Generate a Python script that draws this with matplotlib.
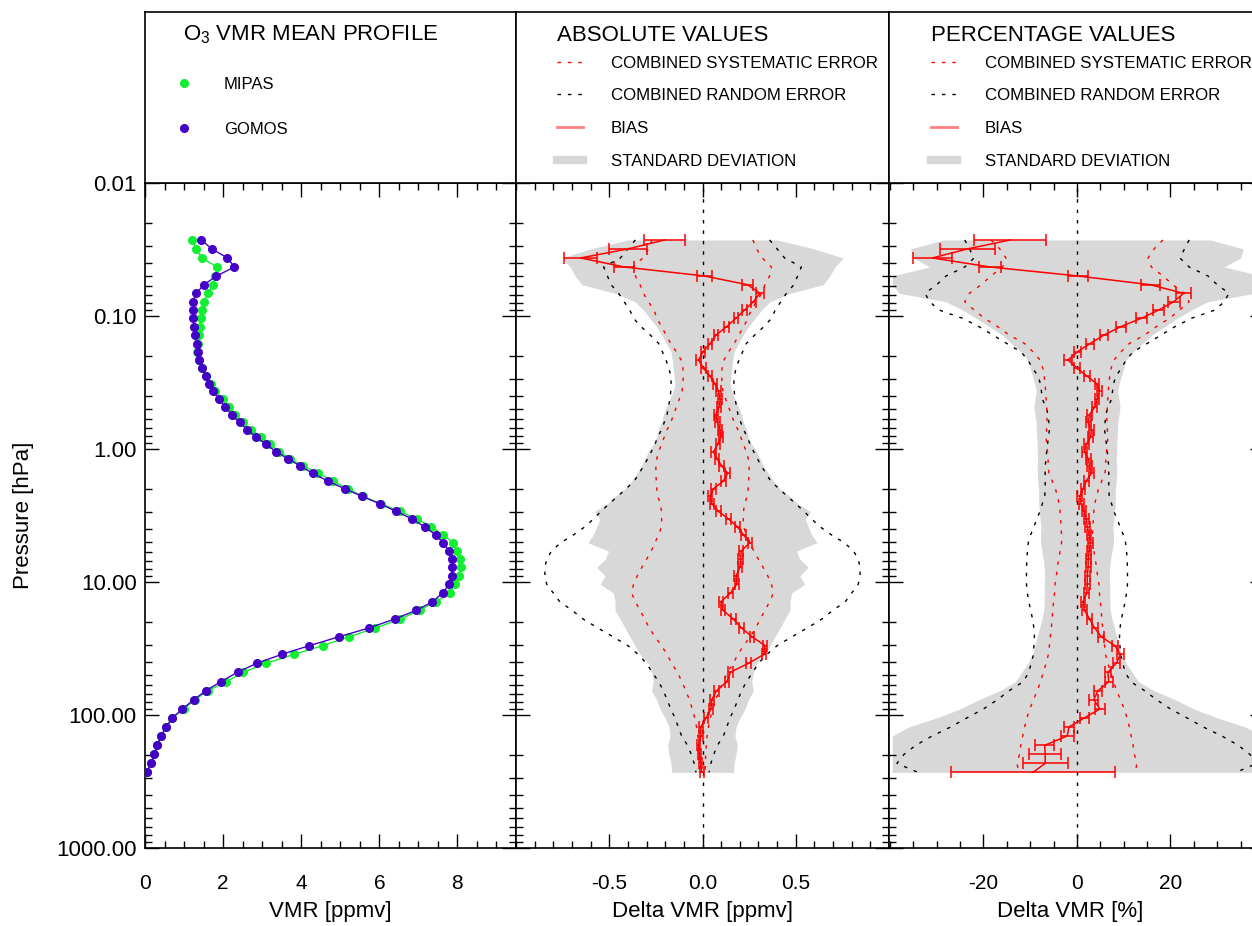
"""O3 VMR mean profiles MIPAS vs GOMOS and their differences (absolute / percentage)."""

import matplotlib

matplotlib.use("Agg")
import matplotlib.pyplot as plt
import numpy as np
from matplotlib.lines import Line2D
from matplotlib.ticker import (FixedLocator, FuncFormatter, LogLocator,
                               MultipleLocator, NullFormatter)

plt.rcParams["font.family"] = ["Liberation Sans", "DejaVu Sans"]
plt.rcParams["mathtext.fontset"] = "custom"
plt.rcParams["mathtext.rm"] = "Liberation Sans"
plt.rcParams["axes.unicode_minus"] = False

# --- data ------------------------------------------------------------------
pressure = [0.0268, 0.0313, 0.0366, 0.0428, 0.0500, 0.0582, 0.0675, 0.0781, 0.0901, 0.104,
            0.120, 0.139, 0.161, 0.186, 0.214, 0.247, 0.284, 0.325, 0.368, 0.423,
            0.483, 0.552, 0.630, 0.716, 0.813, 0.922, 1.05, 1.18, 1.34, 1.52,
            1.74, 1.99, 2.27, 2.58, 2.95, 3.36, 3.84, 4.41, 5.06, 5.85,
            6.75, 7.75, 9.01, 10.4, 12.1, 14.1, 16.3, 19.0, 22.2, 25.8,
            30.1, 35.0, 40.9, 47.7, 56.2, 65.7, 76.7, 90.1, 105, 123,
            144, 169, 198, 231, 270]

mipas = [1.21, 1.31, 1.45, 1.85, 1.80, 1.75, 1.62, 1.50, 1.46, 1.43,
         1.41, 1.38, 1.35, 1.34, 1.38, 1.46, 1.57, 1.68, 1.80, 1.99,
         2.14, 2.31, 2.50, 2.72, 2.97, 3.21, 3.44, 3.72, 4.04, 4.44,
         4.81, 5.19, 5.58, 6.05, 6.52, 6.97, 7.33, 7.63, 7.89, 7.99,
         8.06, 8.09, 8.04, 7.95, 7.80, 7.44, 7.03, 6.54, 5.90, 5.23,
         4.55, 3.82, 3.10, 2.52, 2.08, 1.61, 1.28, 0.99, 0.70, 0.54,
         0.41, 0.30, 0.24, 0.16, 0.04]

gomos = [1.44, 1.71, 2.11, 2.29, 1.83, 1.51, 1.31, 1.22, 1.22, 1.24,
         1.26, 1.28, 1.32, 1.35, 1.39, 1.46, 1.56, 1.64, 1.75, 1.89,
         2.05, 2.22, 2.42, 2.62, 2.85, 3.10, 3.36, 3.65, 3.97, 4.29,
         4.68, 5.11, 5.56, 6.01, 6.44, 6.84, 7.16, 7.44, 7.63, 7.79,
         7.86, 7.87, 7.86, 7.79, 7.62, 7.36, 6.95, 6.39, 5.73, 4.97,
         4.21, 3.50, 2.86, 2.37, 1.94, 1.56, 1.25, 0.96, 0.70, 0.54,
         0.41, 0.32, 0.24, 0.16, 0.04]

# absolute differences [ppmv]
bias_abs = [-0.203, -0.399, -0.654, -0.42, 0.009, 0.242, 0.308, 0.273, 0.226, 0.18,
            0.130, 0.073, 0.041, 0.002, -0.021, 0.005, 0.041, 0.068, 0.086, 0.095,
            0.089, 0.071, 0.080, 0.095, 0.098, 0.082, 0.059, 0.077, 0.103, 0.135,
            0.112, 0.059, 0.041, 0.05, 0.086, 0.14, 0.187, 0.219, 0.255, 0.207,
            0.205, 0.201, 0.18, 0.184, 0.15, 0.098, 0.11, 0.165, 0.21, 0.266,
            0.335, 0.33, 0.246, 0.15, 0.13, 0.075, 0.05, 0.045, 0.02, -0.009,
            -0.009, -0.022, -0.016, -0.011, -0.004]
bias_abs_err = [0.111, 0.100, 0.089, 0.052, 0.041, 0.030, 0.020, 0.015, 0.014, 0.013,
                0.013, 0.012, 0.012, 0.012, 0.012, 0.012, 0.012, 0.012, 0.012, 0.012,
                0.012, 0.012, 0.012, 0.012, 0.012, 0.012, 0.012, 0.012, 0.012, 0.012,
                0.012, 0.012, 0.012, 0.012, 0.012, 0.012, 0.012, 0.012, 0.012, 0.012,
                0.012, 0.012, 0.012, 0.012, 0.012, 0.012, 0.012, 0.012, 0.012, 0.012,
                0.012, 0.012, 0.012, 0.012, 0.012, 0.012, 0.012, 0.012, 0.012, 0.010,
                0.010, 0.010, 0.010, 0.010, 0.010]
sys_abs = [0.27, 0.29, 0.32, 0.37, 0.36, 0.335, 0.317, 0.29, 0.26, 0.245,
           0.22, 0.195, 0.17, 0.14, 0.115, 0.105, 0.103, 0.105, 0.11, 0.125,
           0.14, 0.155, 0.17, 0.19, 0.205, 0.22, 0.235, 0.245, 0.25, 0.25,
           0.248, 0.245, 0.24, 0.225, 0.22, 0.219, 0.22, 0.235, 0.255, 0.275,
           0.30, 0.325, 0.35, 0.37, 0.38, 0.36, 0.335, 0.31, 0.285, 0.255,
           0.22, 0.19, 0.165, 0.135, 0.11, 0.09, 0.07, 0.055, 0.042, 0.032,
           0.025, 0.02, 0.017, 0.015, 0.014]
rnd_abs = [0.36, 0.40, 0.44, 0.53, 0.51, 0.49, 0.45, 0.42, 0.39, 0.37,
           0.33, 0.28, 0.235, 0.215, 0.196, 0.18, 0.17, 0.168, 0.17, 0.175,
           0.183, 0.19, 0.205, 0.22, 0.24, 0.255, 0.275, 0.294, 0.315, 0.34,
           0.365, 0.41, 0.455, 0.50, 0.545, 0.585, 0.63, 0.69, 0.76, 0.81,
           0.835, 0.845, 0.845, 0.835, 0.80, 0.765, 0.70, 0.64, 0.56, 0.48,
           0.40, 0.345, 0.30, 0.27, 0.235, 0.21, 0.19, 0.17, 0.148, 0.13,
           0.112, 0.08, 0.06, 0.045, 0.035]
std_abs = [0.40, 0.60, 0.754, 0.71, 0.683, 0.647, 0.469, 0.362, 0.317, 0.282,
           0.246, 0.219, 0.193, 0.169, 0.162, 0.157, 0.152, 0.148, 0.157, 0.175,
           0.193, 0.21, 0.219, 0.237, 0.246, 0.264, 0.29, 0.308, 0.326, 0.353,
           0.38, 0.415, 0.469, 0.51, 0.58, 0.55, 0.567, 0.585, 0.615, 0.504,
           0.522, 0.567, 0.522, 0.549, 0.478, 0.469, 0.469, 0.442, 0.415, 0.389,
           0.362, 0.335, 0.29, 0.273, 0.264, 0.273, 0.246, 0.228, 0.201, 0.18,
           0.174, 0.187, 0.18, 0.169, 0.166]

# percentage differences [%]
bias_pct = [-14.3, -23.4, -30.9, -18.6, 0.2, 15.7, 22.8, 20.7, 17.5, 13.8,
            9.4, 5.8, 2.8, 0.1, -1.9, 0.0, 2.2, 4.3, 4.8, 4.3,
            3.8, 2.7, 2.4, 3.1, 2.9, 2.0, 1.6, 2.4, 2.7, 3.1,
            2.0, 1.3, 0.6, 0.9, 1.5, 2.0, 2.2, 2.6, 2.85, 2.6,
            2.4, 2.4, 2.2, 2.2, 2.1, 1.3, 1.6, 2.7, 3.8, 5.2,
            8.1, 9.3, 8.4, 6.6, 6.8, 4.5, 3.6, 4.9, 1.6, -1.7,
            -2.1, -6.9, -6.8, -6.8, -9.4]
bias_pct_err = [7.7, 5.8, 4.2, 2.3, 2.1, 2.1, 1.6, 1.3, 1.2, 1.1,
                1.0, 0.9, 0.9, 0.8, 0.8, 0.7, 0.6, 0.5, 0.5, 0.5,
                0.5, 0.5, 0.5, 0.5, 0.5, 0.5, 0.5, 0.5, 0.5, 0.5,
                0.5, 0.5, 0.5, 0.5, 0.5, 0.5, 0.5, 0.5, 0.5, 0.5,
                0.5, 0.5, 0.5, 0.5, 0.5, 0.5, 0.6, 0.6, 0.6, 0.6,
                0.7, 0.7, 0.7, 0.7, 0.8, 0.9, 1.0, 1.0, 1.0, 1.1,
                1.4, 2.0, 3.4, 4.8, 17.5]
sys_pct = [18.4, 16.5, 15.2, 15.9, 18.4, 20.5, 23.0, 24.0, 22.0, 19.8,
           17.0, 14.5, 11.2, 9.4, 7.9, 7.3, 7.0, 6.8, 6.7, 6.6,
           6.5, 6.4, 6.4, 6.5, 6.6, 6.5, 6.3, 6.2, 6.1, 6.0,
           5.3, 4.6, 4.2, 3.8, 3.6, 3.5, 3.4, 3.3, 3.3, 3.6,
           3.9, 4.2, 4.4, 4.7, 4.8, 5.0, 5.2, 5.3, 5.5, 5.7,
           5.9, 6.1, 6.6, 7.2, 7.8, 8.5, 9.3, 10.1, 10.7, 11.2,
           11.6, 12.0, 12.3, 12.8, 12.5]
rnd_pct = [24.0, 23.0, 22.0, 24.0, 28.0, 30.0, 32.5, 31.5, 29.5, 24.5,
           21.0, 18.0, 15.0, 12.0, 10.5, 9.5, 8.3, 7.8, 7.6, 7.4,
           6.6, 6.2, 6.0, 5.9, 6.1, 6.3, 6.5, 6.6, 6.8, 6.8,
           6.8, 6.8, 6.9, 7.4, 7.9, 8.6, 9.2, 9.9, 10.4, 10.6,
           10.7, 10.8, 10.8, 10.8, 10.6, 10.3, 9.9, 9.5, 9.2, 9.1,
           9.2, 9.3, 9.8, 10.3, 11.5, 14.5, 17.0, 20.0, 23.5, 27.0,
           31.0, 34.5, 37.0, 38.5, 34.0]
std_pct = [28.5, 35.6, 35.0, 31.5, 39.5, 39.5, 38.0, 28.0, 24.5, 21.5,
           18.8, 16.0, 14.0, 12.0, 10.5, 10.0, 9.5, 9.0, 8.7, 9.0,
           9.2, 9.0, 8.7, 8.7, 8.6, 8.5, 8.5, 8.4, 8.5, 8.5,
           8.4, 8.2, 8.2, 8.2, 8.0, 7.9, 7.7, 7.8, 7.8, 7.5,
           7.2, 7.0, 6.9, 7.0, 7.0, 7.0, 7.1, 7.5, 8.0, 8.5,
           9.0, 9.5, 10.5, 11.8, 13.2, 16.5, 21.0, 25.0, 30.0, 36.0,
           39.5, 39.5, 39.5, 39.5, 39.5]

GREEN = "#12ee30"
PURPLE = "#4500c8"
RED = "#ff0000"
GREY = "#d8d8d8"
DASH = (0, (2.5, 5))

W, H = 1252, 926
fig = plt.figure(figsize=(W / 100, H / 100), dpi=100)


def rect(x0, x1, y0, y1):
    """Pixel box (from top-left) -> figure fraction rect."""
    return [x0 / W, 1 - y1 / H, (x1 - x0) / W, (y1 - y0) / H]


ax_prof = fig.add_axes(rect(145, 516, 183, 848))
ax_abs = fig.add_axes(rect(516, 889, 183, 848))
ax_pct = fig.add_axes(rect(889, 1264, 183, 848))
hd_prof = fig.add_axes(rect(145, 516, 12, 183))
hd_abs = fig.add_axes(rect(516, 889, 12, 183))
hd_pct = fig.add_axes(rect(889, 1264, 12, 183))

# mean profiles
ax_prof.plot(mipas, pressure, color=GREEN, lw=1, marker="o", ms=5.5, mec=GREEN, zorder=3)
ax_prof.plot(gomos, pressure, color=PURPLE, lw=1, marker="o", ms=5.5, mec=PURPLE, zorder=4)


def diff_panel(ax, std, sys_err, rnd_err, bias, bias_err):
    std = np.asarray(std)
    ax.fill_betweenx(pressure, -std, std, color=GREY, lw=0, zorder=1)
    for sign in (1, -1):
        ax.plot(sign * np.asarray(rnd_err), pressure, color="k", ls=DASH, lw=1, zorder=2)
        ax.plot(sign * np.asarray(sys_err), pressure, color=RED, ls=DASH, lw=1, zorder=2)
    ax.axvline(0, color="k", ls=DASH, lw=1, zorder=2)
    ax.errorbar(bias, pressure, xerr=bias_err, color=RED, lw=1.1, elinewidth=1.1,
                capsize=4, capthick=1.1, zorder=3)


diff_panel(ax_abs, std_abs, sys_abs, rnd_abs, bias_abs, bias_abs_err)
diff_panel(ax_pct, std_pct, sys_pct, rnd_pct, bias_pct, bias_pct_err)

for ax in (ax_prof, ax_abs, ax_pct):
    ax.set_yscale("log")
    ax.set_ylim(1000, 0.01)
    ax.yaxis.set_major_locator(LogLocator(base=10, numticks=12))
    ax.yaxis.set_minor_locator(LogLocator(base=10, subs=np.arange(2, 10), numticks=12))
    ax.yaxis.set_minor_formatter(NullFormatter())
    ax.yaxis.set_major_formatter(FuncFormatter(lambda v, _: f"{v:.2f}"))
    ax.tick_params(which="both", direction="in", top=True, right=True, labelsize=15)
    ax.tick_params(axis="y", labelsize=16, pad=6)
    ax.tick_params(which="major", length=10, width=1)
    ax.tick_params(which="minor", length=5, width=1)
    ax.tick_params(axis="x", pad=19)
    for sp in ax.spines.values():
        sp.set_linewidth(1.2)

ax_prof.set_xlim(0, 9.5)
ax_prof.xaxis.set_major_locator(MultipleLocator(2))
ax_prof.xaxis.set_minor_locator(MultipleLocator(0.5))
ax_prof.set_xlabel("VMR [ppmv]", fontsize=16)
ax_prof.set_ylabel("Pressure [hPa]", fontsize=16)
ax_prof.yaxis.set_label_coords(-0.299, 0.5)

ax_abs.set_xlim(-1.0, 1.0)
ax_abs.xaxis.set_major_locator(FixedLocator([-0.5, 0.0, 0.5]))
ax_abs.xaxis.set_minor_locator(MultipleLocator(0.1))
ax_abs.set_xlabel("Delta VMR [ppmv]", fontsize=16)
ax_abs.tick_params(labelleft=False)

ax_pct.set_xlim(-40.2, 40.0)
ax_pct.xaxis.set_major_locator(FixedLocator([-20, 0, 20]))
ax_pct.xaxis.set_minor_locator(MultipleLocator(5))
ax_pct.set_xlabel("Delta VMR [%]", fontsize=16)
ax_pct.tick_params(labelleft=False)

for ax in (ax_prof, ax_abs):
    ax.xaxis.set_label_coords(0.5, -0.08)
ax_pct.xaxis.set_label_coords(0.4827, -0.08)

# header boxes with legends
for hd in (hd_prof, hd_abs, hd_pct):
    hd.set_xticks([])
    hd.set_yticks([])
    for sp in hd.spines.values():
        sp.set_linewidth(1.2)

TITLE_Y = 0.865
hd_prof.text(0.1024, TITLE_Y, r"O$_{\mathregular{3}}$ VMR MEAN PROFILE", fontsize=16,
             ha="left", va="center", transform=hd_prof.transAxes)
prof_handles = [Line2D([], [], ls="none", marker="o", ms=5.5, color=GREEN),
                Line2D([], [], ls="none", marker="o", ms=5.5, color=PURPLE)]
hd_prof.legend(prof_handles, ["MIPAS", "GOMOS"], loc="upper left",
               bbox_to_anchor=(0.0916, 0.622), frameon=False, fontsize=12,
               borderpad=0, borderaxespad=0, handlelength=0.6,
               handletextpad=2.1, labelspacing=1.81)

diff_handles = [Line2D([], [], color=RED, ls=DASH, lw=1),
                Line2D([], [], color="k", ls=DASH, lw=1),
                Line2D([], [], color="#ff8080", lw=2),
                Line2D([], [], color=GREY, lw=6)]
diff_labels = ["COMBINED SYSTEMATIC ERROR", "COMBINED RANDOM ERROR", "BIAS",
               "STANDARD DEVIATION"]
for hd, title, x0 in ((hd_abs, "ABSOLUTE VALUES", 41 / 373),
                      (hd_pct, "PERCENTAGE VALUES", 42 / 375)):
    hd.text(x0, TITLE_Y, title, fontsize=16, ha="left", va="center",
            transform=hd.transAxes)
    hd.legend(diff_handles, diff_labels, loc="upper left",
              bbox_to_anchor=(x0, 0.745), frameon=False, fontsize=12.2,
              borderpad=0, borderaxespad=0, handlelength=1.56,
              handletextpad=1.6, labelspacing=1.05)

fig.savefig("out.png", dpi=100)
